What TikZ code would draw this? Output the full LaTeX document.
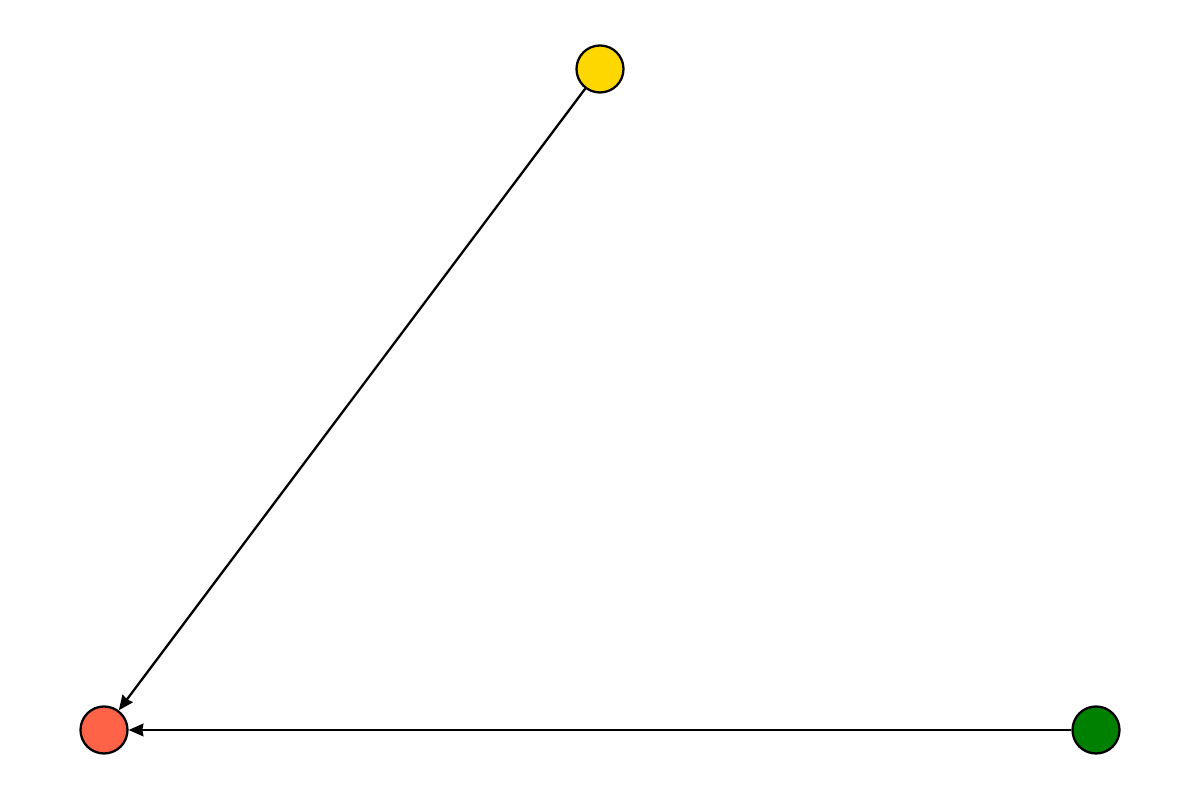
\documentclass[tikz,border=0pt]{standalone}
\usetikzlibrary{arrows.meta}
\definecolor{gold}{HTML}{FFD700}
\definecolor{tomato}{HTML}{FF6347}
\definecolor{dgreen}{HTML}{008000}
\begin{document}
\begin{tikzpicture}[
  vertex/.style={circle, draw=black, line width=0.65pt, minimum size=0.47cm, inner sep=0pt},
  edge/.style={draw=black, line width=0.65pt, -{Stealth[length=4.2pt,width=3.6pt,inset=0.3pt]}, shorten >=0pt}
]
\useasboundingbox (0,0) rectangle (12,8);
\node[vertex, fill=gold] (y) at (6.00,7.31) {};
\node[vertex, fill=tomato] (r) at (1.04,0.70) {};
\node[vertex, fill=dgreen] (g) at (10.96,0.70) {};
\draw[edge] (y) -- (r);
\draw[edge] (g) -- (r);
\end{tikzpicture}
\end{document}
